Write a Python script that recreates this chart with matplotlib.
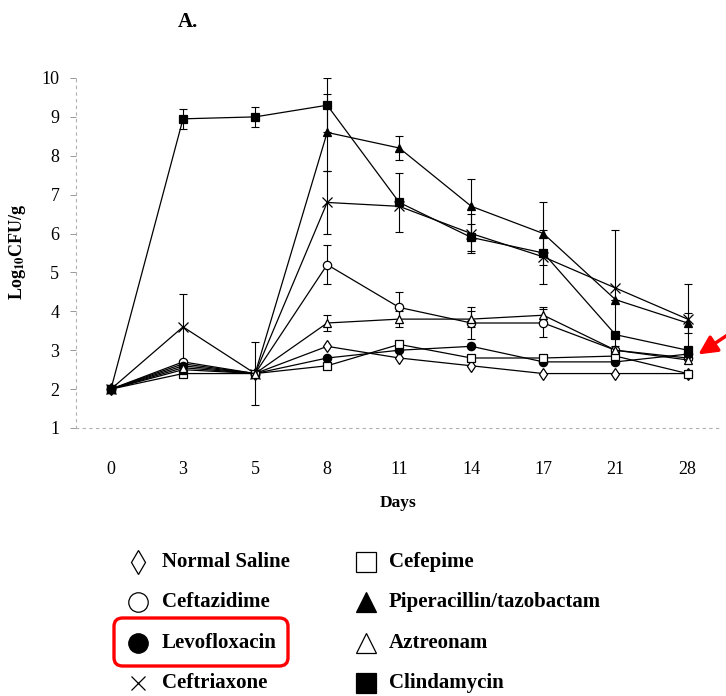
import matplotlib
matplotlib.use('Agg')
import matplotlib.pyplot as plt
from matplotlib.lines import Line2D
from matplotlib.patches import FancyBboxPatch, FancyArrowPatch

plt.rcParams['font.family'] = ['Liberation Serif', 'DejaVu Serif']
plt.rcParams['mathtext.fontset'] = 'stix'

# sampling days (plotted as equally spaced categories)
days = ['0', '3', '5', '8', '11', '14', '17', '21', '28']

# log10 CFU/g for each treatment group
saline = [2.0, 2.65, 2.4, 3.1, 2.8, 2.6, 2.4, 2.4, 2.4]
ceftazidime = [2.0, 2.7, 2.4, 5.2, 4.1, 3.7, 3.7, 3.0, 2.8]
levofloxacin = [2.0, 2.6, 2.4, 2.8, 3.0, 3.1, 2.7, 2.7, 2.9]
ceftriaxone = [2.0, 3.6, 2.4, 6.8, 6.7, 6.0, 5.4, 4.6, 3.8]
cefepime = [2.0, 2.4, 2.4, 2.6, 3.15, 2.8, 2.8, 2.85, 2.4]
piperacillin = [2.0, 2.5, 2.4, 8.6, 8.2, 6.7, 6.0, 4.3, 3.7]
aztreonam = [2.0, 2.55, 2.4, 3.7, 3.8, 3.8, 3.9, 3.0, 2.75]
clindamycin = [2.0, 8.95, 9.0, 9.3, 6.8, 5.9, 5.5, 3.4, 3.0]

# error bars (0 = none drawn)
ceftazidime_err = [0, 0, 0, 0.5, 0.4, 0.4, 0.35, 0, 0]
ceftriaxone_err = [0, 0.85, 0.8, 0.8, 0, 0.5, 0.7, 1.5, 0.9]
piperacillin_err = [0, 0, 0, 1.0, 0.3, 0.7, 0.8, 0, 0.25]
aztreonam_err = [0, 0, 0, 0.2, 0.2, 0.2, 0.2, 0, 0]
clindamycin_err = [0, 0.25, 0.25, 0.7, 0.75, 0.35, 0, 0, 0]

names = ['Normal Saline', 'Ceftazidime', 'Levofloxacin', 'Ceftriaxone',
         'Cefepime', 'Piperacillin/tazobactam', 'Aztreonam', 'Clindamycin']
series = [saline, ceftazidime, levofloxacin, ceftriaxone,
          cefepime, piperacillin, aztreonam, clindamycin]
errors = [None, ceftazidime_err, None, ceftriaxone_err,
          None, piperacillin_err, aztreonam_err, clindamycin_err]
markers = ['d', 'o', 'o', 'x', 's', '^', '^', 's']
faces = ['white', 'white', 'black', 'black', 'white', 'black', 'white', 'black']
sizes = [6, 6, 6, 7, 6, 6, 6, 6]

fig = plt.figure(figsize=(7.26, 6.96), dpi=100)
ax = fig.add_axes([76 / 726, 1 - 428 / 696, 644 / 726, 350 / 696])

x = list(range(len(days)))
for vals, err, m, fc, ms in zip(series, errors, markers, faces, sizes):
    if err is not None:
        ax.errorbar(x, vals, yerr=err, fmt='none', ecolor='black',
                    elinewidth=0.8, capsize=3, capthick=0.8, zorder=2)
    ax.plot(x, vals, color='black', lw=0.9, marker=m, markersize=ms,
            markerfacecolor=fc, markeredgecolor='black', markeredgewidth=0.9,
            zorder=3)

ax.set_xlim(-0.485, 8.45)
ax.set_ylim(1, 10)
ax.set_xticks(x)
ax.set_xticklabels(days)
ax.set_yticks(range(1, 11))
ax.tick_params(axis='x', length=0, pad=24, labelsize=13)
ax.tick_params(axis='y', length=4, width=0.6, color='#888888', pad=8, labelsize=13)
for s in ['top', 'right']:
    ax.spines[s].set_visible(False)
for s in ['left', 'bottom']:
    ax.spines[s].set_color('#b0b0b0')
    ax.spines[s].set_linewidth(0.8)
    ax.spines[s].set_linestyle((0, (2, 4)))

ax.set_xlabel('Days', fontsize=12.5, fontweight='bold', labelpad=12)
fig.text(18 / 726, 1 - 252 / 696, r'Log$_{\mathbf{10}}$CFU/g', rotation=90,
         ha='center', va='center', fontsize=13, fontweight='bold')
fig.text(188 / 726, 1 - 22 / 696, 'A.', ha='center', va='center',
         fontsize=15, fontweight='bold')

# legend built by hand, two columns
W, H = 726, 696
col_marker = [138, 366]
col_text = [162, 389]
rows = [562, 602, 643, 683]
leg_sizes = {'d': 12.5, 'o': 14, 'x': 10, 's': 14, '^': 14}
for i, (name, m, fc) in enumerate(zip(names, markers, faces)):
    c, r = divmod(i, 4)
    fig.add_artist(Line2D([col_marker[c] / W], [1 - rows[r] / H],
                          transform=fig.transFigure, marker=m, linestyle='none',
                          markersize=leg_sizes[m], markerfacecolor=fc,
                          markeredgecolor='black', markeredgewidth=0.9))
    fig.text(col_text[c] / W, 1 - rows[r] / H, name, ha='left', va='center',
             fontsize=15, fontweight='bold')

# red highlight box round Levofloxacin
fig.add_artist(FancyBboxPatch((114 / W, 1 - 666 / H), 174 / W, 48 / H,
                              boxstyle='round,pad=0,rounding_size=0.012',
                              transform=fig.transFigure, fill=False,
                              edgecolor='red', linewidth=2.4))

# red arrow pointing to day 28 levofloxacin
fig.add_artist(FancyArrowPatch((735 / W, 1 - 330 / H), (696 / W, 1 - 356 / H),
                               transform=fig.transFigure, arrowstyle='-|>',
                               mutation_scale=28, color='red', linewidth=2.5))

fig.savefig('out.png', dpi=100)
